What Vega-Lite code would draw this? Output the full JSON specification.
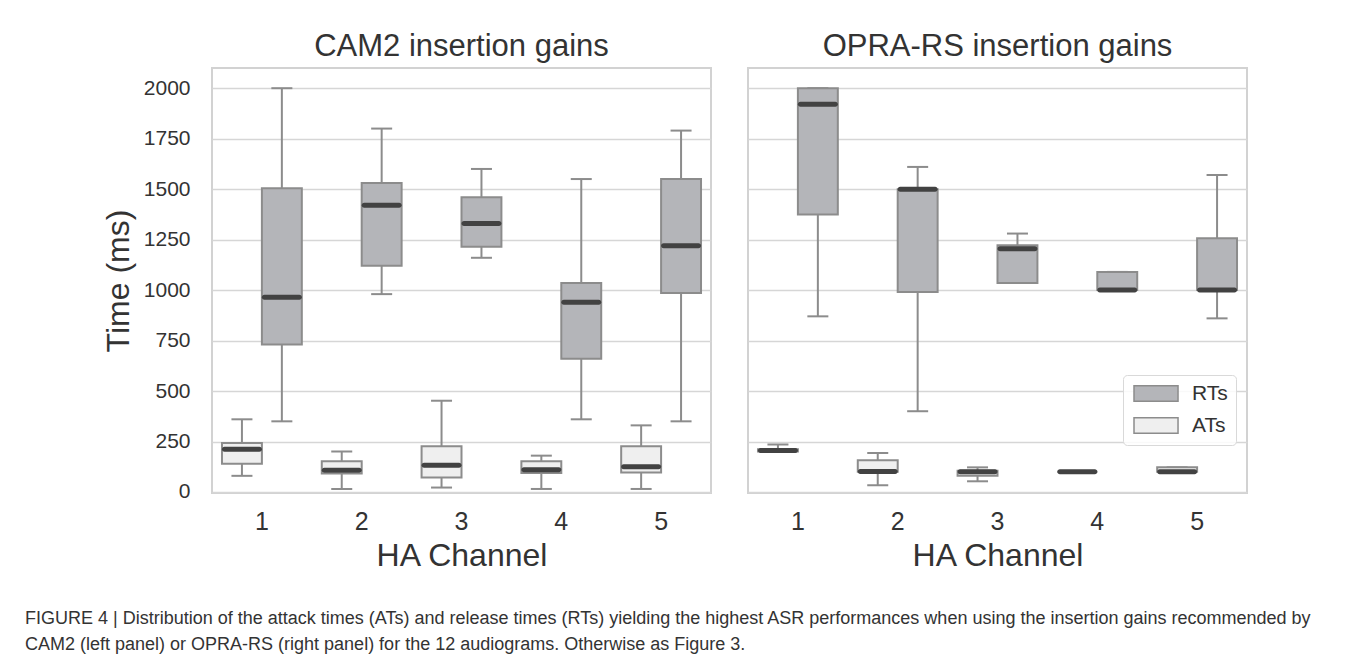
{
  "$schema": "https://vega.github.io/schema/vega-lite/v6.json",
  "background": "white",
  "padding": {"left": 25, "top": 31, "right": 10, "bottom": 8},
  "title": {
    "text": ["FIGURE 4 | Distribution of the attack times (ATs) and release times (RTs) yielding the highest ASR performances when using the insertion gains recommended by", "CAM2 (left panel) or OPRA-RS (right panel) for the 12 audiograms. Otherwise as Figure 3."],
    "orient": "bottom", "anchor": "start", "frame": "group", "dx": -187, "offset": 39,
    "fontSize": 18, "font": "Liberation Sans Narrow, Liberation Sans", "fontWeight": "normal", "color": "#333333", "lineHeight": 26
  },
  "data": {"values": [
    {"panel": "CAM2 insertion gains", "channel": 1, "type": "RTs", "lower": 350, "q1": 730, "median": 965, "q3": 1505, "upper": 2000},
    {"panel": "CAM2 insertion gains", "channel": 2, "type": "RTs", "lower": 980, "q1": 1120, "median": 1420, "q3": 1530, "upper": 1800},
    {"panel": "CAM2 insertion gains", "channel": 3, "type": "RTs", "lower": 1160, "q1": 1215, "median": 1330, "q3": 1460, "upper": 1600},
    {"panel": "CAM2 insertion gains", "channel": 4, "type": "RTs", "lower": 360, "q1": 660, "median": 940, "q3": 1035, "upper": 1550},
    {"panel": "CAM2 insertion gains", "channel": 5, "type": "RTs", "lower": 350, "q1": 985, "median": 1220, "q3": 1550, "upper": 1790},
    {"panel": "CAM2 insertion gains", "channel": 1, "type": "ATs", "lower": 80, "q1": 140, "median": 212, "q3": 243, "upper": 360},
    {"panel": "CAM2 insertion gains", "channel": 2, "type": "ATs", "lower": 15, "q1": 92, "median": 108, "q3": 152, "upper": 200},
    {"panel": "CAM2 insertion gains", "channel": 3, "type": "ATs", "lower": 22, "q1": 72, "median": 132, "q3": 226, "upper": 452},
    {"panel": "CAM2 insertion gains", "channel": 4, "type": "ATs", "lower": 15, "q1": 94, "median": 110, "q3": 152, "upper": 180},
    {"panel": "CAM2 insertion gains", "channel": 5, "type": "ATs", "lower": 15, "q1": 97, "median": 125, "q3": 226, "upper": 330},
    {"panel": "OPRA-RS insertion gains", "channel": 1, "type": "RTs", "lower": 870, "q1": 1375, "median": 1920, "q3": 2000, "upper": 2000},
    {"panel": "OPRA-RS insertion gains", "channel": 2, "type": "RTs", "lower": 400, "q1": 990, "median": 1500, "q3": 1500, "upper": 1610},
    {"panel": "OPRA-RS insertion gains", "channel": 3, "type": "RTs", "lower": 1035, "q1": 1035, "median": 1205, "q3": 1222, "upper": 1280},
    {"panel": "OPRA-RS insertion gains", "channel": 4, "type": "RTs", "lower": 1000, "q1": 1000, "median": 1000, "q3": 1090, "upper": 1090},
    {"panel": "OPRA-RS insertion gains", "channel": 5, "type": "RTs", "lower": 860, "q1": 1000, "median": 1000, "q3": 1257, "upper": 1570},
    {"panel": "OPRA-RS insertion gains", "channel": 1, "type": "ATs", "lower": 200, "q1": 200, "median": 205, "q3": 212, "upper": 235},
    {"panel": "OPRA-RS insertion gains", "channel": 2, "type": "ATs", "lower": 33, "q1": 100, "median": 102, "q3": 157, "upper": 193},
    {"panel": "OPRA-RS insertion gains", "channel": 3, "type": "ATs", "lower": 53, "q1": 80, "median": 100, "q3": 105, "upper": 122},
    {"panel": "OPRA-RS insertion gains", "channel": 4, "type": "ATs", "lower": 100, "q1": 100, "median": 100, "q3": 100, "upper": 100},
    {"panel": "OPRA-RS insertion gains", "channel": 5, "type": "ATs", "lower": 100, "q1": 100, "median": 100, "q3": 122, "upper": 122}
  ]},
  "facet": {
    "column": {
      "field": "panel", "type": "nominal",
      "sort": ["CAM2 insertion gains", "OPRA-RS insertion gains"],
      "header": {"title": null, "labelFontSize": 31, "labelColor": "#333333", "labelPadding": 4, "labelFont": "Liberation Sans"}
    }
  },
  "spacing": 35,
  "spec": {
    "width": 499,
    "height": 425,
    "encoding": {
      "x": {
        "field": "channel", "type": "ordinal", "title": "HA Channel",
        "scale": {"paddingInner": 0.2, "paddingOuter": 0.1},
        "axis": {"labelAngle": 0, "labelFontSize": 25, "labelPadding": 15, "ticks": false, "domain": false, "grid": false, "titleFontSize": 32, "titlePadding": 6}
      },
      "xOffset": {"field": "type", "type": "nominal", "sort": ["ATs", "RTs"], "scale": {"paddingInner": 0, "paddingOuter": 0}}
    },
    "layer": [
      {
        "mark": {"type": "rule", "color": "#8c8c8c", "strokeWidth": 2},
        "encoding": {
          "y": {"field": "lower", "type": "quantitative", "title": "Time (ms)",
            "scale": {"domain": [-5, 2100], "nice": false, "zero": false},
            "axis": {"values": [0, 250, 500, 750, 1000, 1250, 1500, 1750, 2000], "format": "d", "labelFontSize": 21, "labelPadding": 21, "ticks": false, "domain": false, "titleFontSize": 32, "titlePadding": 8, "gridColor": "#d6d6d6", "gridWidth": 1.5}},
          "y2": {"field": "upper"}
        }
      },
      {
        "mark": {"type": "tick", "color": "#8c8c8c", "thickness": 2, "size": 21, "opacity": 1},
        "encoding": {"y": {"field": "lower", "type": "quantitative", "title": "Time (ms)"}}
      },
      {
        "mark": {"type": "tick", "color": "#8c8c8c", "thickness": 2, "size": 21, "opacity": 1},
        "encoding": {"y": {"field": "upper", "type": "quantitative", "title": "Time (ms)"}}
      },
      {
        "mark": {"type": "bar", "stroke": "#8c8c8c", "strokeWidth": 2, "opacity": 1},
        "encoding": {
          "y": {"field": "q1", "type": "quantitative", "title": "Time (ms)"},
          "y2": {"field": "q3"},
          "fill": {
            "field": "type", "type": "nominal",
            "scale": {"domain": ["RTs", "ATs"], "range": ["#b4b5b9", "#efefef"]},
            "legend": {
              "title": null, "orient": "none", "legendX": 911, "legendY": 307,
              "padding": 8, "strokeColor": "#d9d9d9", "fillColor": "rgba(255,255,255,0.85)", "cornerRadius": 4,
              "symbolType": "M-1,-1.03H4.87V1.03H-1Z", "symbolSize": 225,
              "symbolStrokeColor": "#8c8c8c", "symbolStrokeWidth": 1.5, "symbolOpacity": 1,
              "labelFontSize": 21, "labelColor": "#333333", "labelOffset": 40, "rowPadding": 9
            }
          }
        }
      },
      {
        "mark": {"type": "tick", "color": "#424242", "thickness": 5, "size": 40, "opacity": 1, "cornerRadius": 2.5},
        "encoding": {"y": {"field": "median", "type": "quantitative", "title": "Time (ms)"}}
      }
    ]
  },
  "config": {
    "font": "Liberation Sans",
    "view": {"stroke": "#d2d2d2", "strokeWidth": 2},
    "axis": {"labelColor": "#333333", "titleColor": "#333333", "titleFontWeight": "normal"}
  }
}
